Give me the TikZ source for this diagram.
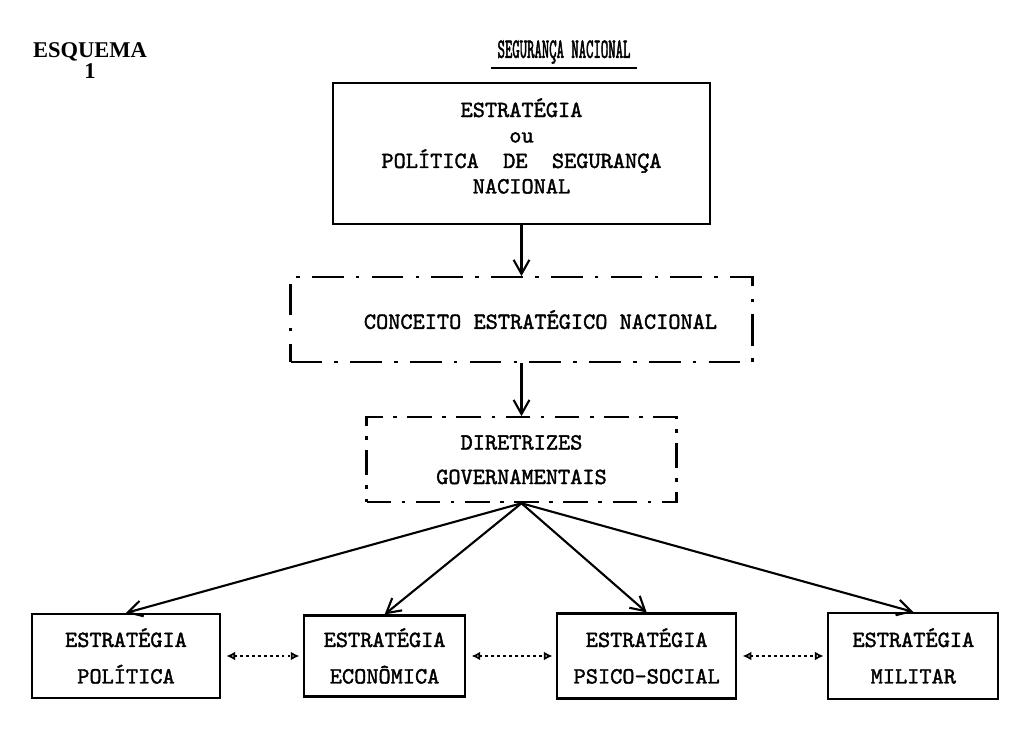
\documentclass[tikz,border=0pt]{standalone}
\usepackage{fontspec}
\setmainfont{Liberation Serif}
\newfontfamily\twfamily[FakeBold=1.6]{lmmono10-regular.otf}
\newfontfamily\condfamily[FakeStretch=0.5,FakeBold=1.6]{lmmono10-regular.otf}
\usetikzlibrary{positioning, arrows.meta}

\begin{document}
\begin{tikzpicture}[node distance=1cm,
		box/.style={draw, line width=1.2pt, align=center, font=\twfamily\fontsize{13.2}{14.5}\selectfont},
		txt/.style={align=center, inner sep=0pt, font=\twfamily\fontsize{13.2}{14.5}\selectfont},
		dashbox/.style={box, dash pattern=on 18pt off 7pt on 2pt off 7pt},
		flow/.style={-{Straight Barb[length=8pt,width=9pt]}, line width=1.2pt},
		link/.style={{Latex[open,length=5pt,width=5pt]}-{Latex[open,length=5pt,width=5pt]}, dotted, line width=1.4pt, shorten <=3pt, shorten >=2pt}]
	\useasboundingbox (0,0) rectangle (20.34,-14.96);
	
	\node[align=center, font=\bfseries\fontsize{12.8}{12}\selectfont] (esq) at (1.8,-1.22) {ESQUEMA\\1};
	\node[font=\condfamily\fontsize{16}{18}\selectfont] (title) at (11.28,-1.04) {SEGURANÇA NACIONAL};
	\draw[line width=1.2pt] ([yshift=1pt]title.south west) -- ([yshift=1pt]title.south east);
	
	\node[box, minimum width=7.54cm, minimum height=2.82cm] (pns) at (10.43,-3.07) {};
	\node[txt, below=0.32cm of pns.north] (pnstxt) {ESTRATÉGIA\\ou\\POLÍTICA~~DE~~SEGURANÇA\\NACIONAL};
	\node[dashbox, minimum width=9.24cm, minimum height=1.7cm, below=1.02cm of pns] (cen) {\hspace*{0.76cm}CONCEITO ESTRATÉGICO NACIONAL};
	\node[dashbox, minimum width=6.2cm, minimum height=1.7cm, below=1.06cm of cen, dash pattern=on 14pt off 6pt on 2pt off 6pt] (dg) {DIRETRIZES\\[0.18cm]GOVERNAMENTAIS};
	
	\node[box, minimum width=3.76cm, minimum height=1.68cm] (epol) at (2.52,-13.12) {ESTRATÉGIA\\[0.22cm]POLÍTICA};
	\node[box, minimum width=3.22cm, minimum height=1.62cm, right=1.64cm of epol] (eeco) {ESTRATÉGIA\\[0.22cm]ECONÔMICA};
	\node[box, minimum width=3.58cm, minimum height=1.7cm, right=1.8cm of eeco] (epsi) {ESTRATÉGIA\\[0.22cm]PSICO-SOCIAL};
	\node[box, minimum width=3.4cm, minimum height=1.72cm, right=1.8cm of epsi] (emil) {ESTRATÉGIA\\[0.22cm]MILITAR};
	
	\draw[flow] (pns) -- (cen);
	\draw[flow] (cen) -- (dg);
	\foreach \e in {epol,eeco,epsi,emil}
		\draw[flow] (dg.south) -- (\e.north);
	
	\draw[link] (epol) -- (eeco);
	\draw[link] (eeco) -- (epsi);
	\draw[link] (epsi) -- (emil);
\end{tikzpicture}
\end{document}
